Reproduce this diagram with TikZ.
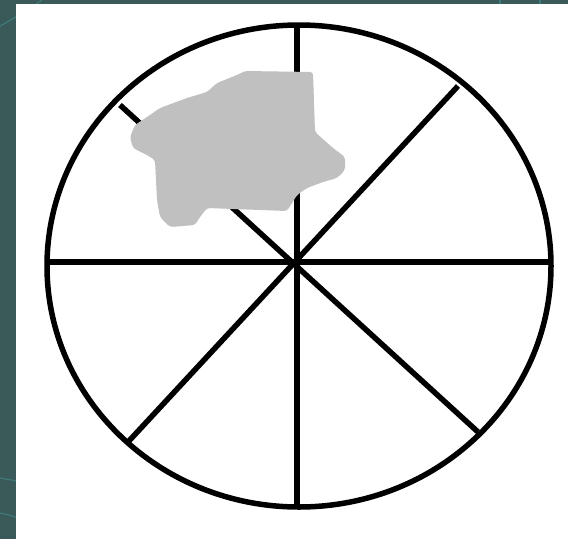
\documentclass[tikz,border=0pt]{standalone}
\usepackage{xcolor}
\usepackage{tikz}
\definecolor{slide}{HTML}{3A5A5A}
\definecolor{swirl}{HTML}{3F7A7A}
\definecolor{blob}{HTML}{C0C0C0}

\begin{document}
\begin{tikzpicture}[
  x=1pt, y=-1pt,
  spoke/.style={draw=black, line width=5.5pt},
  rim/.style={draw=black, line width=5.5pt},
  swirlline/.style={draw=swirl, line width=1.2pt}
]
% slide background
\fill[slide] (0,0) rectangle (568,539);
\useasboundingbox (0,0) rectangle (568,539);
\draw[swirlline] (0,26) .. controls (15,18) and (30,8) .. (42,0);
\draw[swirlline] (0,478) .. controls (6,479) and (12,480) .. (16,481);
\draw[swirlline] (0,513) .. controls (6,514) and (12,516) .. (16,517);
\draw[swirlline] (500,0) -- (500,4);
\draw[swirlline] (540,0) -- (540,4);
\fill[white] (16,4) rectangle (568,539);

% centre and rim points
\coordinate (c) at (297,262);
\coordinate (n) at (297,25);
\coordinate (s) at (297,508);
\coordinate (w) at (47,262);
\coordinate (e) at (551,262);
\coordinate (ne) at (458,86);
\coordinate (sw) at (128,442);
\coordinate (nw) at (120,105);
\coordinate (se) at (478,432);

% spokes
\draw[spoke] (n) -- (s);
\draw[spoke] (w) -- (e);
\draw[spoke] (ne) -- (sw);
\draw[spoke] (nw) -- (se);

% rim
\draw[rim] (299,266) ellipse [x radius=252, y radius=241];

% grey patch
\fill[blob, rounded corners=3pt]
  (245,71) -- (313,72) -- (315,132) -- (333,148) -- (345,157) -- (345,170)
  -- (337,178) -- (323,182) -- (307,188) -- (297,195) -- (287,211)
  -- (207,208) -- (200,217) -- (195,225) -- (170,227) -- (160,217)
  -- (157,200) -- (155,160) -- (147,155) -- (133,148) -- (130,137)
  -- (135,125) -- (147,117) -- (160,108) -- (187,98) -- (207,92)
  -- (217,83) -- (237,75) -- cycle;
\end{tikzpicture}
\end{document}
